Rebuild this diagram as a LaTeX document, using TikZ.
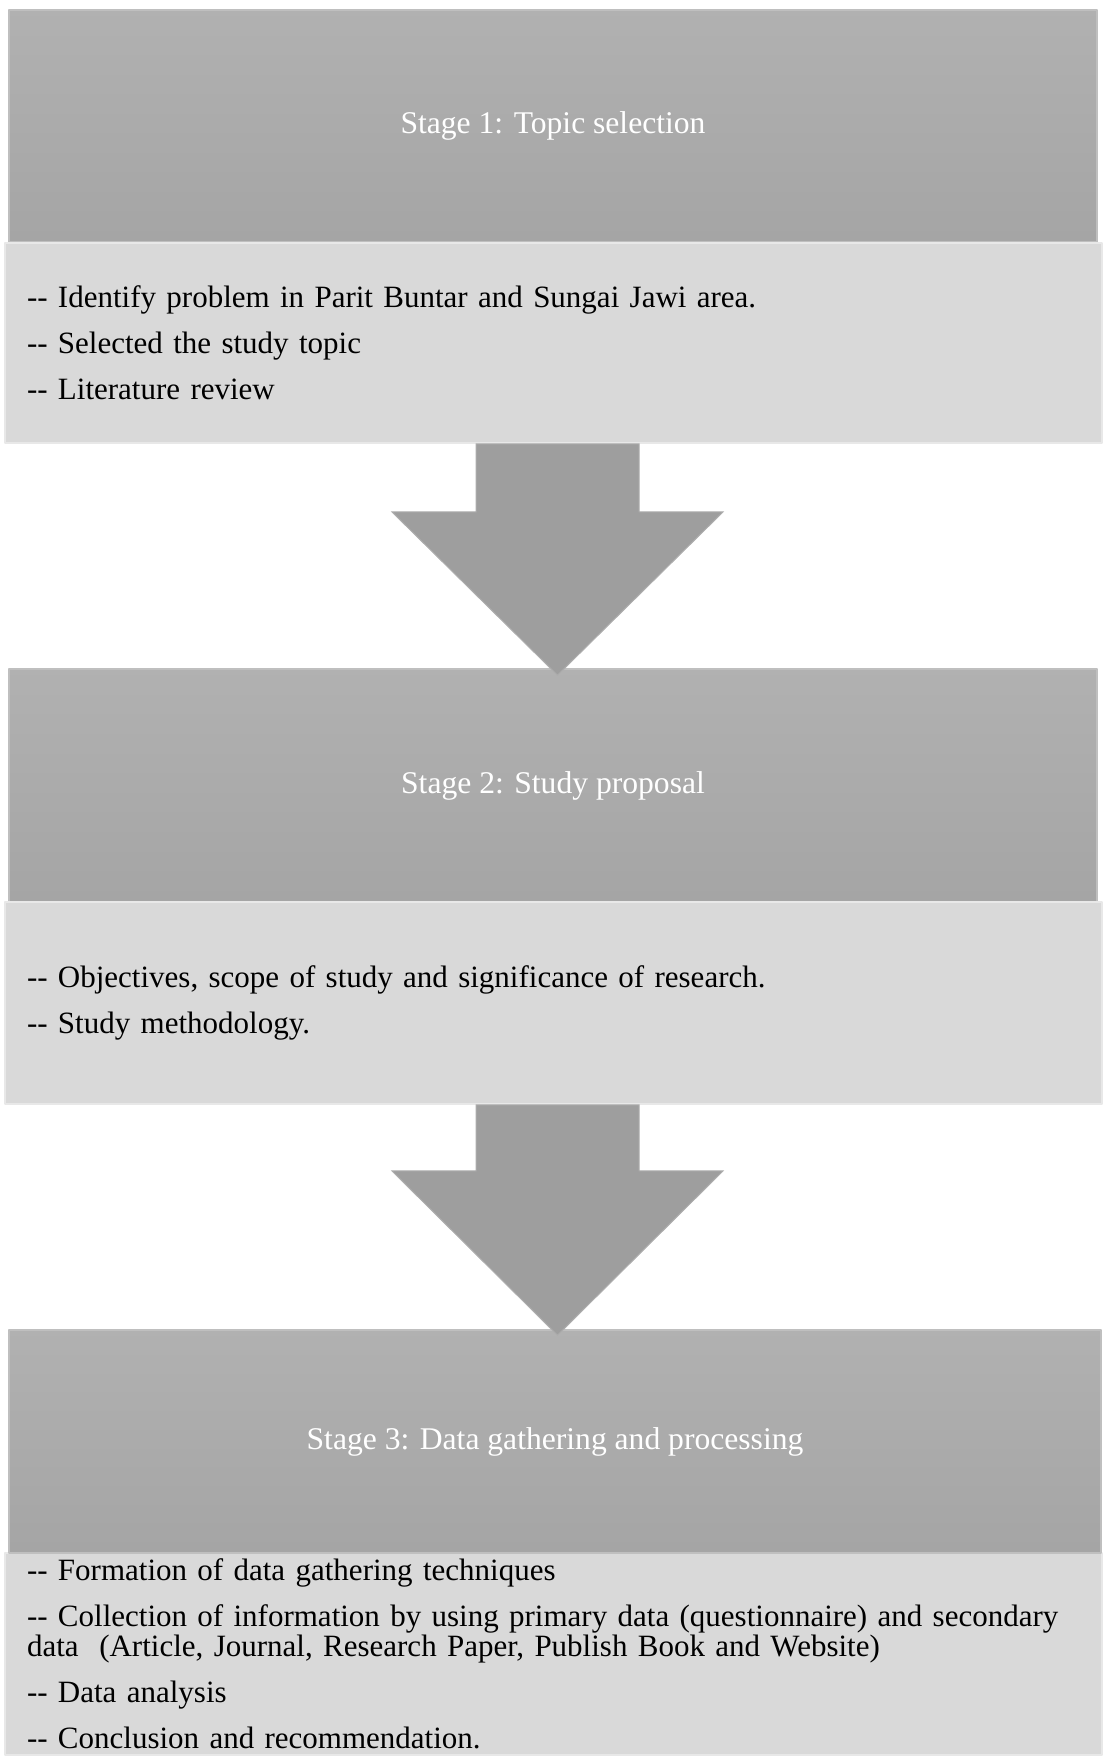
\documentclass[tikz,border=0pt]{standalone}
\usepackage{fontspec}
\setmainfont{Liberation Serif}
\usetikzlibrary{calc}
\definecolor{headgray}{HTML}{AAAAAA}
\definecolor{bodygray}{HTML}{D9D9D9}
\definecolor{arrowgray}{HTML}{9E9E9E}
\begin{document}
\begin{tikzpicture}[>=latex,line join=bevel,
  stagehead/.style={draw=headgray!75!white,line width=1.5bp,top color=headgray!92!white,bottom color=headgray!97!black,
    minimum width=1088bp,inner sep=0pt,text=white,font=\fontsize{31.6bp}{30bp}\selectfont},
  stagebody/.style={draw=bodygray!60!white,line width=2bp,fill=bodygray,text=black,align=left,
    text width=1053bp,inner xsep=22bp,inner ysep=0pt,font=\fontsize{31bp}{30bp}\selectfont},
  blockarrow/.style={fill=arrowgray,draw=arrowgray!85!white,line width=1bp,line join=miter}]
\useasboundingbox (0bp,0bp) rectangle (1103bp,1758bp);
%%
\node (head_1) at (553bp,1632bp) [stagehead,minimum height=232bp] {Stage 1: Topic selection};
  \node (body_1) at (553.5bp,1415bp) [stagebody,minimum height=200bp] {-{}- Identify problem in Parit Buntar and Sungai Jawi area.\\[16bp]-{}- Selected the study topic\\[16bp]-{}- Literature review};
  \node (head_2) at (553bp,972.5bp) [stagehead,minimum height=233bp] {Stage 2: Study proposal};
  \node (body_2) at (553.5bp,755bp) [stagebody,minimum height=202bp] {-{}- Objectives, scope of study and significance of research.\\[16bp]-{}- Study methodology.};
  \node (body_3) at (553.5bp,104bp) [stagebody,minimum height=202bp] {-{}- Formation of data gathering techniques\\[16bp]\mbox{-{}- Collection of information by using primary data (questionnaire) and secondary}\\ data\ \ (Article, Journal, Research Paper, Publish Book and Website)\\[16bp]-{}- Data analysis\\[16bp]-{}- Conclusion and recommendation.};
  \node (head_3) at (555bp,316.5bp) [stagehead,minimum width=1092bp,minimum height=223bp] {Stage 3: Data gathering and processing};
  \draw [blockarrow] ($(body_1.south)+(-77.5bp,0)$) -- ++(163bp,0) -- ++(0,-68bp) -- ++(84bp,0) -- ($(head_2.north)+(4.5bp,-7bp)$) -- ($(body_1.south)+(-161.5bp,-68bp)$) -- ++(84bp,0) -- cycle;
  \draw [blockarrow] ($(body_2.south)+(-77.5bp,0)$) -- ++(163bp,0) -- ++(0,-66bp) -- ++(84bp,0) -- ($(head_3.north)+(2.5bp,-6bp)$) -- ($(body_2.south)+(-161.5bp,-66bp)$) -- ++(84bp,0) -- cycle;
%
\end{tikzpicture}
\end{document}
